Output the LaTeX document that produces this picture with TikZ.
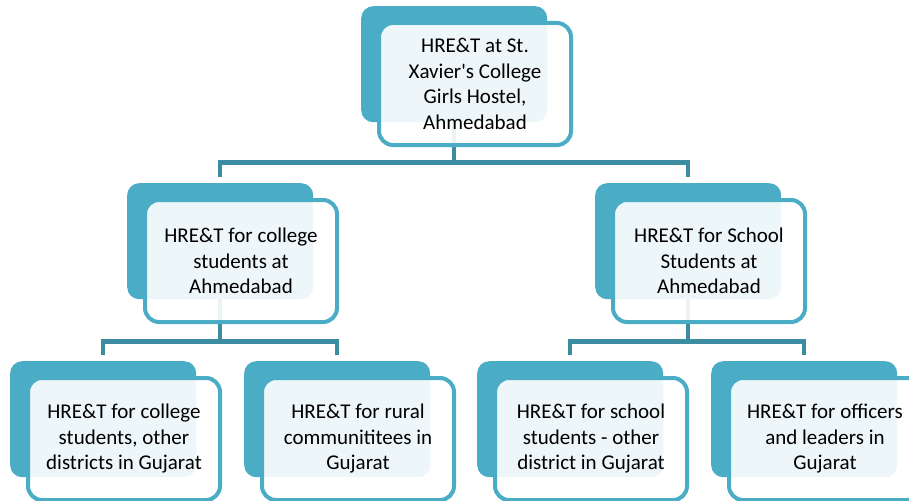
\documentclass[tikz,border=0pt]{standalone}
\usepackage{fontspec}
\setmainfont{Carlito}[Ligatures=TeXOff]
\usetikzlibrary{calc}
\definecolor{tealbk}{HTML}{4BACC6}
\definecolor{tealln}{HTML}{3D8DA2}
\begin{document}
\begin{tikzpicture}[x=1pt,y=1pt,
  backbox/.style={rectangle, rounded corners=12pt, fill=tealbk, draw=none,
    minimum width=186pt, minimum height=116pt, inner sep=0pt, anchor=north west},
  frontbox/.style={rectangle, rounded corners=14pt, draw=tealbk, line width=4pt,
    fill=white, fill opacity=0.9, text opacity=1, text=black,
    minimum width=192pt, minimum height=122pt, inner sep=0pt, align=center,
    font=\fontsize{21}{25.5}\selectfont},
  conn/.style={draw=tealln, line width=4.5pt, line join=miter, line cap=butt}]
\useasboundingbox (0,0) rectangle (909,-500);
% back rectangles
\node[backbox] (Tbk) at (361,-6) {};
\node[backbox] (Lbk) at (127,-183) {};
\node[backbox] (Rbk) at (595,-183) {};
\node[backbox] (Abk) at (10,-361) {};
\node[backbox] (Bbk) at (244,-361) {};
\node[backbox] (Cbk) at (477,-361) {};
\node[backbox] (Dbk) at (711,-361) {};
% connectors
\draw[conn] (Tbk.south) -- ++(0,-40) coordinate (tj);
\draw[conn] ([yshift=6.5pt]Lbk.north) |- (tj) -| ([yshift=6.5pt]Rbk.north);
\draw[conn] (Lbk.south) -- ++(0,-42) coordinate (lj);
\draw[conn] ([yshift=6.5pt]Abk.north) |- (lj) -| ([yshift=6.5pt]Bbk.north);
\draw[conn] (Rbk.south) -- ++(0,-42) coordinate (rj);
\draw[conn] ([yshift=6.5pt]Cbk.north) |- (rj) -| ([yshift=6.5pt]Dbk.north);
% front boxes
\node[frontbox] (T) at (475,-84) {HRE\&T at St.\\Xavier's College\\Girls Hostel,\\Ahmedabad};
\node[frontbox] (L) at (241,-261) {HRE\&T for college\\students at\\Ahmedabad};
\node[frontbox] (R) at (709,-261) {HRE\&T for School\\Students at\\Ahmedabad};
\node[frontbox] (A) at (124,-439) {HRE\&T for college\\students, other\\districts in Gujarat};
\node[frontbox] (B) at (358,-439) {HRE\&T for rural\\communititees in\\Gujarat};
\node[frontbox] (C) at (591,-439) {HRE\&T for school\\students - other\\district in Gujarat};
\node[frontbox] (D) at (825,-439) {HRE\&T for officers\\and leaders in\\Gujarat};
\end{tikzpicture}
\end{document}
